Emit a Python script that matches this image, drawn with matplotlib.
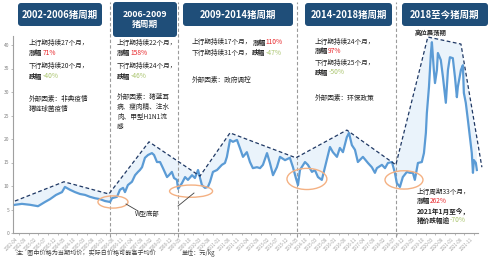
import matplotlib
matplotlib.use('Agg')
import matplotlib.pyplot as plt
from matplotlib.patches import FancyBboxPatch, Ellipse
from matplotlib.transforms import IdentityTransform
from matplotlib.lines import Line2D
import numpy as np

plt.rcParams['font.family'] = ['Noto Sans CJK SC', 'DejaVu Sans']

# ---------------- data ----------------
# months since 2002-01
month = [1.0, 4.6, 8.8, 12.9, 16.5, 19.1, 22.2, 25.3, 26.8, 29.4, 32.0, 34.6, 37.2, 39.7, 42.3, 44.9, 47.5, 50.1,
         51.1, 53.7, 55.2, 56.8, 57.8, 59.3, 61.4, 63.0, 64.5, 65.5, 66.6, 68.1, 69.7, 71.7, 72.8, 74.3, 75.9, 77.4,
         79.5, 80.5, 82.0, 83.1, 84.6, 85.2,
         87.2, 88.8, 90.3, 92.4, 93.9, 95.5, 97.5, 99.1, 100.6, 101.7, 103.2, 105.3, 107.8, 109.4, 110.4, 112.0,
         113.5, 115.6, 117.1, 118.7, 120.7, 122.3, 123.8, 125.9, 127.5, 129.0, 131.1, 132.6, 134.2, 136.2, 137.8,
         140.4, 142.9, 144.5, 146.0, 147.1,
         148.1, 150.7, 152.2, 154.3, 155.8, 157.4, 159.4, 161.0, 163.6, 165.1, 167.2, 168.7, 170.3, 172.3, 173.4,
         174.9, 176.5, 178.0, 180.6, 183.2, 185.2, 186.8, 187.8, 190.4, 192.0, 193.5, 195.6, 197.1, 198.1, 199.7,
         201.2, 203.3, 204.9, 206.4, 207.4, 209.0, 211.0, 212.1, 213.1, 213.6, 214.7, 215.7, 216.2, 217.2, 217.8,
         218.8, 219.3, 220.8, 221.9, 223.4, 224.5, 225.5, 227.0, 228.1, 229.1, 229.6, 231.2, 232.2, 232.7, 233.7,
         234.8, 235.8, 236.8, 237.4, 237.9, 238.9, 239.4]
price = [6.0, 6.2, 6.0, 5.7, 6.6, 7.2, 8.1, 8.7, 9.8, 9.2, 8.7, 8.3, 8.1, 7.7, 7.4, 7.2, 6.8, 6.6,
         7.4, 7.7, 9.2, 9.6, 8.7, 10.2, 10.9, 12.3, 13.0, 13.4, 14.0, 16.0, 16.6, 17.0, 16.6, 15.1, 15.1, 13.8,
         11.9, 12.3, 13.0, 11.7, 11.3, 9.4,
         10.6, 11.9, 11.3, 12.3, 11.7, 13.4, 10.2, 9.6, 9.8, 10.9, 13.0, 13.4, 14.5, 14.9, 16.2, 19.8,
         19.4, 19.8, 18.1, 16.2, 17.2, 15.1, 13.8, 14.0, 13.8, 14.5, 17.0, 14.9, 12.3, 14.0, 16.2,
         15.5, 16.0, 14.0, 11.7, 10.2,
         13.4, 15.1, 14.5, 13.0, 13.4, 11.9, 11.3, 14.0, 18.3, 17.2, 16.2, 18.1, 17.2, 20.4, 21.3,
         18.7, 17.7, 15.1, 16.2, 14.9, 14.0, 12.8, 13.8, 14.5, 13.8, 14.9, 15.1, 12.8, 10.6, 9.8,
         11.9, 13.0, 12.8, 12.8, 11.3, 14.9, 15.1, 17.0, 21.3, 25.5, 31.1, 38.3, 40.6, 34.7, 31.9,
         34.7, 38.3, 36.8, 33.2, 27.7, 34.7, 37.4, 37.2, 33.2, 28.9, 31.1, 34.7, 35.7, 29.8, 27.7,
         24.0, 20.4, 17.0, 12.8, 15.5, 14.9, 13.4]

trend_month = [1.0, 26.3, 49.5, 70.2, 96.5, 112.0, 146.0, 172.3, 197.6, 214.1, 231.2, 242.0]
trend_price = [6.8, 10.9, 8.3, 19.4, 12.1, 21.3, 16.0, 21.9, 14.5, 41.7, 40.2, 14.0]

cycle_bounds = [50.1, 85.2, 146.6, 197.7]

cycle_titles = ["2002-2006猪周期", "2006-2009\n猪周期", "2009-2014猪周期", "2014-2018猪周期", "2018至今猪周期"]

yticks = [0, 5, 10, 15, 20, 25, 30, 35, 40]
xtick_months = list(range(3, 241, 5))
xtick_labels = [f"{2002 + m // 12}-{m % 12 + 1:02d}" for m in xtick_months]

# ---------------- figure ----------------
W, H = 500, 260
fig = plt.figure(figsize=(5, 2.6), dpi=100)
fig.patch.set_facecolor('white')


def fx(px):
    return px / W


def fy(py):
    return 1 - py / H


ax = fig.add_axes([fx(13), fy(233), (478 - 13) / W, (233 - 35.6) / H])
ax.set_xlim(0, 240)
ax.set_ylim(0, 42)
for s in ['top', 'right']:
    ax.spines[s].set_visible(False)
for s in ['left', 'bottom']:
    ax.spines[s].set_color('#a0a0a0')
    ax.spines[s].set_linewidth(0.8)
ax.set_yticks(yticks)
ax.set_yticklabels([str(v) for v in yticks], fontsize=3.5, color='#808080')
ax.set_xticks(xtick_months)
ax.set_xticklabels(xtick_labels, fontsize=3.2, color='#a0a0a0', rotation=45, ha='right')
ax.tick_params(axis='both', length=1.5, width=0.5, color='#a0a0a0', pad=1)

# light blue fill between trend line and price
tr = np.interp(month, trend_month, trend_price)
ax.fill_between(month, price, tr, where=np.array(tr) > np.array(price), color='#eaf3fb', lw=0, zorder=1)

ax.plot(month, price, color='#5b9bd5', lw=1.6, solid_joinstyle='round', zorder=3)
ax.plot(trend_month, trend_price, color='#1f3864', lw=0.9, ls=(0, (3, 2)), zorder=4, clip_on=False)

for b in cycle_bounds:
    ax.axvline(b, ymin=-0.02, ymax=(233 - 2) / 197.4, color='#9a9a9a', lw=0.8, ls=(0, (3, 2)),
               clip_on=False, zorder=2)

# ellipses (data units)
ell = [(51.6, 6.6, 15.5, 2.6), (91.9, 8.9, 22.2, 2.6), (151.7, 11.5, 20.6, 4.5), (201.8, 11.3, 19.6, 3.9)]
for cx, cy, w, h in ell:
    ax.add_patch(Ellipse((cx, cy), w, h, fill=False, edgecolor='#f4b183', lw=1.0, zorder=5))

# ---------------- annotations in pixel space ----------------
idt = IdentityTransform()
for (x0, y0, x1, y1), t in zip([(18, 3, 102, 26), (113, 2, 177, 37), (183, 3, 293, 26),
                                (305, 3, 392, 26), (402, 3, 488, 26)], cycle_titles):
    p = FancyBboxPatch((x0, H - y1), x1 - x0, y1 - y0, boxstyle="round,pad=0,rounding_size=3",
                       transform=idt, facecolor='#1f4e79', edgecolor='none', zorder=10)
    fig.add_artist(p)
    fs = 6.3 if '\n' in t else 6.8
    fig.text(fx((x0 + x1) / 2), fy((y0 + y1) / 2), t, color='white', fontsize=fs, fontweight='bold',
             ha='center', va='center', linespacing=1.15, zorder=11)

renderer = fig.canvas.get_renderer()
DARK = '#262626'
RED = '#e8262a'
GRN = '#a9c46c'
FS = 4.8


def rich(x, y, parts, size=FS):
    cx = x
    for s, c, w in parts:
        t = fig.text(fx(cx), fy(y), s, color=c, fontsize=size, fontweight=w, ha='left', va='center')
        bb = t.get_window_extent(renderer=renderer)
        cx += bb.width


# column 1
rich(29, 43, [("上行期持续27个月，", DARK, 'normal')])
rich(29, 53, [("涨幅", DARK, 'bold'), ("71%", RED, 'normal')])
rich(29, 66, [("下行期持续20个月，", DARK, 'normal')])
rich(29, 76, [("跌幅", DARK, 'bold'), ("-40%", GRN, 'normal')])
rich(29, 99, [("外部因素：非典疫情", DARK, 'normal')])
rich(29, 109, [("猪链球菌疫情", DARK, 'normal')])
# column 2
rich(117, 43, [("上行期持续22个月，", DARK, 'normal')])
rich(117, 53, [("涨幅", DARK, 'bold'), ("158%", RED, 'normal')])
rich(117, 66, [("下行期持续24个月，", DARK, 'normal')])
rich(117, 76, [("跌幅", DARK, 'bold'), ("-46%", GRN, 'normal')])
rich(117, 97, [("外部因素：猪蓝耳", DARK, 'normal')])
rich(117, 107, [("病、瘦肉精、注水", DARK, 'normal')])
rich(117, 117, [("肉、甲型H1N1流", DARK, 'normal')])
rich(117, 127, [("感", DARK, 'normal')])
# column 3
rich(192, 42, [("上行期持续17个月，", DARK, 'normal'), ("涨幅", DARK, 'bold'), ("110%", RED, 'normal')])
rich(192, 53, [("下行期持续31个月，", DARK, 'normal'), ("跌幅", DARK, 'bold'), ("-47%", GRN, 'normal')])
rich(192, 80, [("外部因素：政府调控", DARK, 'normal')])
# column 4
rich(315, 42, [("上行期持续24个月，", DARK, 'normal')])
rich(315, 51, [("涨幅", DARK, 'bold'), ("97%", RED, 'normal')])
rich(315, 63, [("下行期持续25个月，", DARK, 'normal')])
rich(315, 72, [("跌幅", DARK, 'bold'), ("-50%", GRN, 'normal')])
rich(315, 98, [("外部因素：环保政策", DARK, 'normal')])
# column 5
fig.text(fx(431), fy(33), "高位震荡期", color=DARK, fontsize=4.6, fontweight='bold', ha='center', va='center',
         zorder=12)
rich(417, 192, [("上行周期33个月，", DARK, 'normal')])
rich(417, 201, [("涨幅", DARK, 'bold'), ("262%", RED, 'normal')])
rich(417, 211, [("2021年1月至今，", DARK, 'bold')])
rich(417, 220, [("猪价跌幅逾", DARK, 'bold'), ("-70%", GRN, 'normal')])

# W bottom label and pointers
fig.text(fx(147), fy(214), "W型底部", color=DARK, fontsize=4.6, ha='center', va='center')
fig.add_artist(Line2D([fx(138), fx(126)], [fy(211), fy(204)], color='#404040', lw=0.6))
fig.add_artist(Line2D([fx(178), fx(194)], [fy(206), fy(193)], color='#404040', lw=0.6))

# footer
fig.text(fx(16), fy(253), "注：图中价格为当期均价，实际日价格可能高于均价", color='#404040', fontsize=4.4,
         ha='left', va='center')
fig.text(fx(182), fy(253), "单位：元/kg", color='#404040', fontsize=4.4, ha='left', va='center')

fig.savefig('out.png', dpi=100)
